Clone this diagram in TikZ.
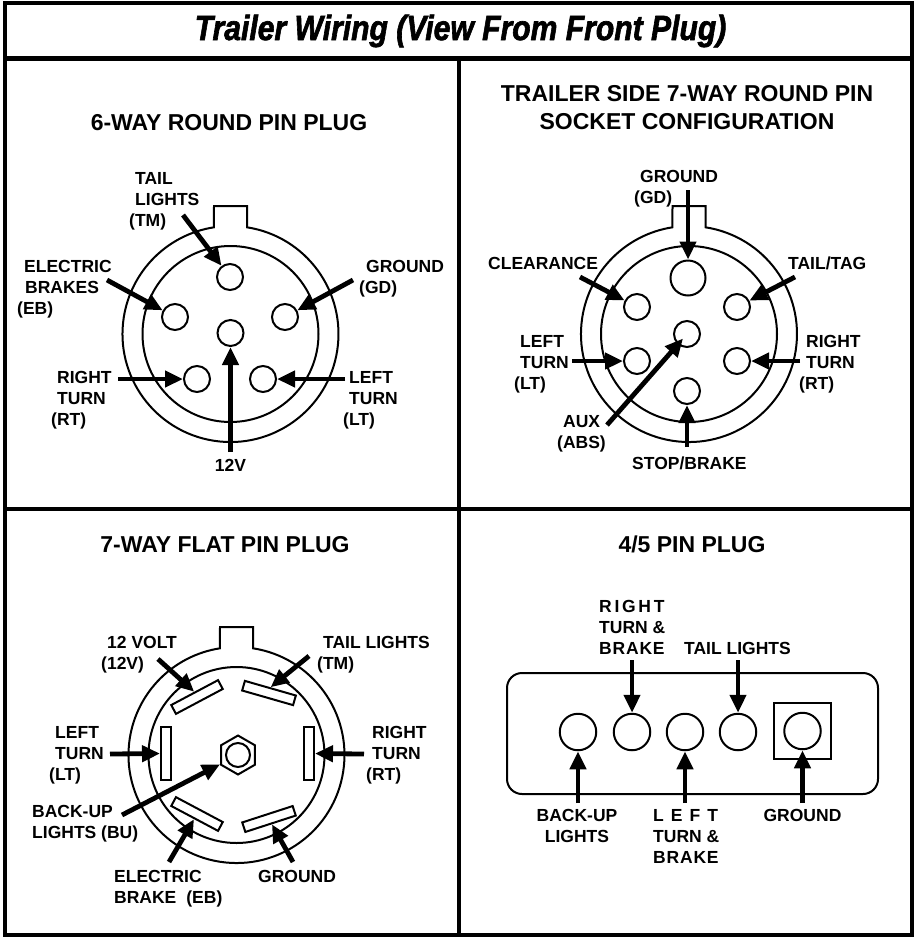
\documentclass[tikz,border=0pt]{standalone}
\usepackage{fontspec}
\usepackage{graphicx}
\setmainfont{Liberation Sans}
\newfontfamily\titlefont{Liberation Sans}[BoldItalicFeatures={FakeBold=2}]
\usetikzlibrary{arrows.meta,shapes.geometric}
\newcommand\firstln{\rule{0pt}{13pt}}
\begin{document}
\begin{tikzpicture}[x=1pt,y=-1pt,
  frame/.style={line width=4.5pt},
  ring/.style={line width=2pt},
  pin/.style={circle,draw,line width=2pt,inner sep=0pt,minimum size=26pt},
  bigpin/.style={pin,minimum size=36.5pt},
  flat/.style={rectangle,draw,line width=2pt,inner sep=0pt,minimum width=53pt,minimum height=10pt},
  arr/.style={line width=4.8pt,-{Triangle[length=18pt,width=16pt]}},
  lbl/.style={font=\fontsize{17.5}{21}\selectfont\bfseries,inner sep=0pt,align=left,anchor=north west},
  head/.style={font=\fontsize{23}{28}\selectfont\bfseries,inner sep=0pt,anchor=base},
  plugbody/.pic={
    \draw[ring] (16.5,-106.7) arc[start angle=-81.2,end angle=261.2,radius=108]
      -- (-16.5,-128) -- (16.5,-128) -- cycle;
    \draw[ring] (0,0) circle[radius=88];
  }
]
\useasboundingbox (0,0) rectangle (917,938);
\fill[white] (0,0) rectangle (917,938);
% frame
\draw[frame] (5,3) rectangle (912,935);
\draw[frame] (5,58.5) -- (912,58.5);
\draw[frame] (459,58.5) -- (459,935);
\draw[frame] (5,509) -- (912,509);
\node[font=\fontsize{35}{40}\selectfont\titlefont\bfseries\itshape,anchor=base,inner sep=0pt] (title) at (460.5,40)
  {\scalebox{0.86}[1]{Trailer Wiring (View From Front Plug)}};

% ---------------- Q1: 6-way round
\node[head] (h1) at (229,130) {6-WAY ROUND PIN PLUG};
\pic at (230.5,334) {plugbody};
\node[pin] (aTM) at (230,277) {};
\node[pin] (aEB) at (175,317) {};
\node[pin] (aGD) at (285,317) {};
\node[pin] (a12) at (230.5,333) {};
\node[pin] (aRT) at (197,379) {};
\node[pin] (aLT) at (263,379) {};
\node[lbl] (lTM) at (129,171) {\firstln\hspace*{6pt}TAIL\\\hspace*{6pt}LIGHTS\\(TM)};
\node[lbl] (lEB) at (17,259) {\firstln\hspace*{7pt}ELECTRIC\\\hspace*{8pt}BRAKES\\(EB)};
\node[lbl] (lGD) at (359,259) {\firstln\hspace*{7pt}GROUND\\(GD)};
\node[lbl] (lRT) at (51,370) {\firstln\hspace*{6pt}RIGHT\\\hspace*{6pt}TURN\\(RT)};
\node[lbl] (lLT) at (343,370) {\firstln\hspace*{6pt}LEFT\\\hspace*{6pt}TURN\\(LT)};
\node[lbl,anchor=base] (l12) at (230.5,471) {12V};
\coordinate (sTM) at (183,215);
\coordinate (sEB) at (107,280);
\coordinate (sGD) at (353,280);
\coordinate (s12) at (230.5,452);
\coordinate (sRT) at (118,379);
\coordinate (sLT) at (345,379);
\draw[arr] (sTM) -- (aTM);
\draw[arr] (sEB) -- (aEB);
\draw[arr] (sGD) -- (aGD);
\draw[arr] (s12) -- (a12);
\draw[arr] (sRT) -- (aRT);
\draw[arr] (sLT) -- (aLT);

% ---------------- Q2: 7-way round socket
\node[head,align=center,anchor=north] (h2) at (687,84)
  {\rule{0pt}{17pt}TRAILER SIDE 7-WAY ROUND PIN\\SOCKET CONFIGURATION};
\pic at (689,334) {plugbody};
\node[pin,minimum size=35pt] (bGD) at (688,278) {};
\node[pin] (bCL) at (637,307) {};
\node[pin] (bTT) at (737,307) {};
\node[pin] (bAX) at (687,334) {};
\node[pin] (bLT) at (637,361) {};
\node[pin] (bRT) at (737,361) {};
\node[pin] (bSB) at (687,391) {};
\node[lbl] (mGD) at (634,169) {\firstln\hspace*{6pt}GROUND\\(GD)};
\node[lbl,anchor=base west] (mCL) at (488,269) {CLEARANCE};
\node[lbl,anchor=base west] (mTT) at (788,269) {TAIL/TAG};
\node[lbl] (mLT) at (514,334) {\firstln\hspace*{6pt}LEFT\\\hspace*{6pt}TURN\\(LT)};
\node[lbl] (mRT) at (799,334) {\firstln\hspace*{7pt}RIGHT\\\hspace*{7pt}TURN\\(RT)};
\node[lbl] (mAX) at (557,414) {\firstln\hspace*{6pt}AUX\\(ABS)};
\node[lbl,anchor=base west] (mSB) at (632,469) {STOP/BRAKE};
\coordinate (tGD) at (688,190);
\coordinate (tCL) at (580,277);
\coordinate (tTT) at (795,277);
\coordinate (tLT) at (572,361);
\coordinate (tRT) at (800,361);
\coordinate (tAX) at (607,425);
\coordinate (tSB) at (687,447);
\draw[arr] (tGD) -- (bGD);
\draw[arr] (tCL) -- (bCL);
\draw[arr] (tTT) -- (bTT);
\draw[arr] (tLT) -- (bLT);
\draw[arr] (tRT) -- (bRT);
\draw[arr,shorten >=6pt] (tAX) -- (bAX.center);
\draw[arr] (tSB) -- (bSB);

% ---------------- Q3: 7-way flat
\node[head] (h3) at (225,552) {7-WAY FLAT PIN PLUG};
\pic at (236.5,755) {plugbody};
\node[flat,rotate=28] (f12) at (197,697) {};
\node[flat,rotate=-16] (fTM) at (269,693) {};
\node[flat,rotate=90] (fLT) at (166,753.5) {};
\node[flat,rotate=90] (fRT) at (309,753.5) {};
\node[flat,rotate=-28] (fEB) at (197,814) {};
\node[flat,rotate=18] (fGN) at (269,819) {};
\node[regular polygon,regular polygon sides=6,shape border rotate=30,draw,line width=2pt,
  inner sep=0pt,minimum size=39pt] (hex) at (238,755) {};
\draw[ring] (hex.center) circle[radius=12];
\node[lbl] (n12) at (101,635) {\firstln\hspace*{6pt}12 VOLT\\(12V)};
\node[lbl] (nTM) at (317,635) {\firstln\hspace*{6pt}TAIL LIGHTS\\(TM)};
\node[lbl] (nLT) at (49,725) {\firstln\hspace*{6pt}LEFT\\\hspace*{6pt}TURN\\(LT)};
\node[lbl] (nRT) at (366,725) {\firstln\hspace*{6pt}RIGHT\\\hspace*{6pt}TURN\\(RT)};
\node[lbl] (nBU) at (32,804) {\firstln BACK-UP\\LIGHTS (BU)};
\node[lbl] (nEB) at (114,869) {\firstln ELECTRIC\\BRAKE\hspace{10pt}(EB)};
\node[lbl,anchor=base west] (nGN) at (258,882) {GROUND};
\coordinate (u12) at (158,659);
\coordinate (uTM) at (309,656);
\coordinate (uLT) at (110,754);
\coordinate (uRT) at (364,754);
\coordinate (uBU) at (122,815);
\coordinate (uEB) at (169,862);
\coordinate (uGN) at (293,862);
\draw[arr] (u12) -- (f12.north);
\draw[arr] (uTM) -- (fTM.north);
\draw[arr] (uLT) -- (fLT);
\draw[arr] (uRT) -- (fRT);
\draw[arr] (uBU) -- (hex);
\draw[arr] (uEB) -- (fEB);
\draw[arr] (uGN) -- (fGN);

% ---------------- Q4: 4/5 pin
\node[head] (h4) at (692,552) {4/5 PIN PLUG};
\draw[ring,rounded corners=15pt] (507,673) rectangle (878,794);
\draw[ring] (774,703) rectangle (831,759);
\node[bigpin] (cBU) at (578,732) {};
\node[bigpin] (cRB) at (632,732) {};
\node[bigpin] (cLB) at (685,732) {};
\node[bigpin] (cTL) at (738,732) {};
\node[bigpin] (cGN) at (802.5,731) {};
\node[lbl] (oRB) at (599,599)
  {\firstln R\kern2.7ptI\kern2.7ptG\kern2.7ptH\kern2.7ptT\\TURN \&\\B\kern0.8ptR\kern0.8ptA\kern0.8ptK\kern0.8ptE};
\node[lbl,anchor=base west] (oTL) at (684,654) {TAIL LIGHTS};
\node[lbl,align=center,anchor=north] (oBU) at (577,808) {\firstln BACK-UP\\LIGHTS};
\node[lbl] (oLB) at (653,808)
  {\firstln L\kern7ptE\kern7ptF\kern7ptT\\TURN \&\\B\kern0.8ptR\kern0.8ptA\kern0.8ptK\kern0.8ptE};
\node[lbl,anchor=base] (oGN) at (802.5,821) {GROUND};
\coordinate (vRB) at (632,660);
\coordinate (vTL) at (738,660);
\coordinate (vBU) at (578,803);
\coordinate (vLB) at (685,803);
\coordinate (vGN) at (802.5,803);
\draw[arr] (vRB) -- (cRB);
\draw[arr] (vTL) -- (cTL);
\draw[arr] (vBU) -- (cBU);
\draw[arr] (vLB) -- (cLB);
\draw[arr] (vGN) -- (cGN);
\end{tikzpicture}
\end{document}
